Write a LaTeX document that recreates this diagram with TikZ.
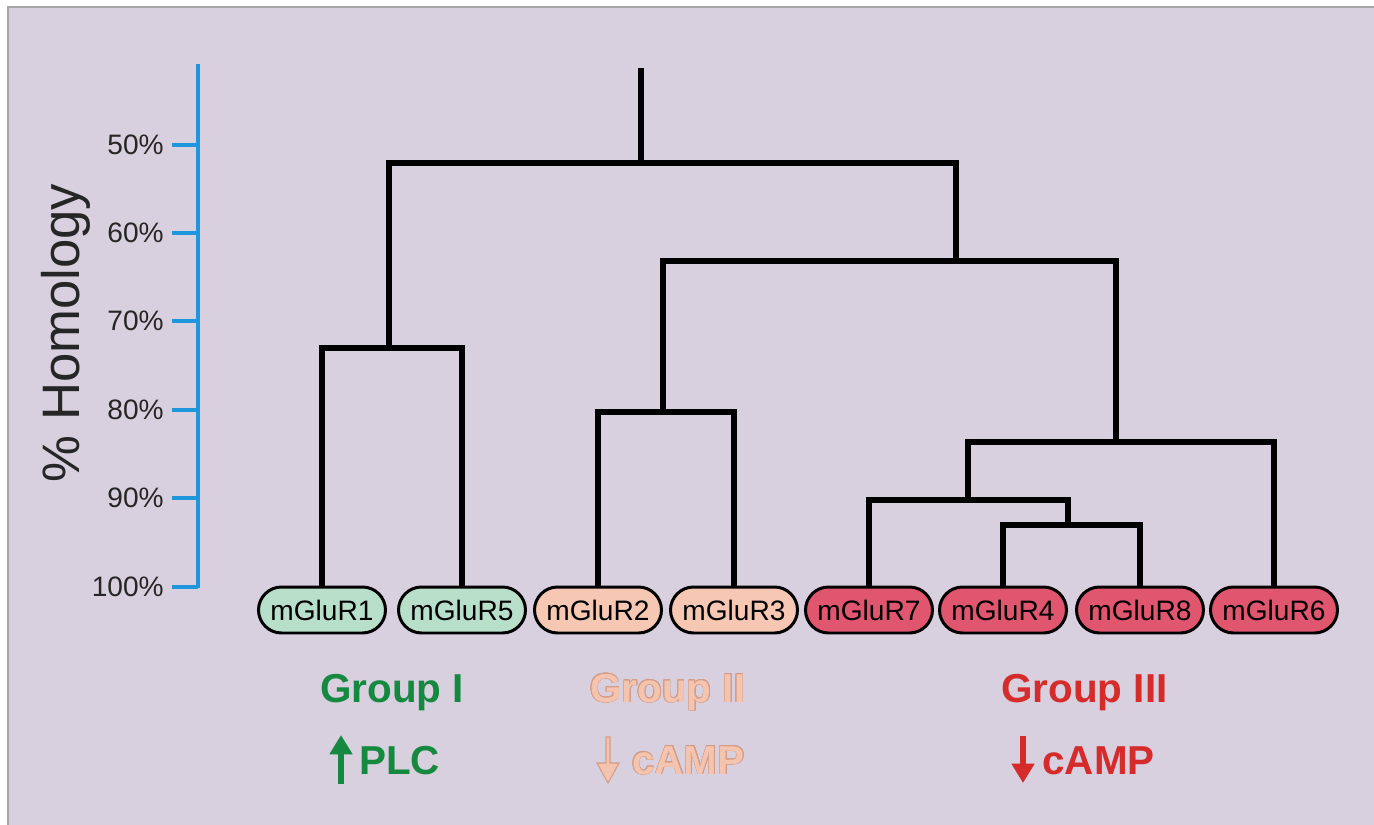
\documentclass[tikz,border=0pt]{standalone}
\usepackage{fontspec}
\setmainfont{Liberation Sans}
\usepackage{contour}
\contourlength{0.35pt}
\usetikzlibrary{arrows.meta}
\definecolor{bgpurple}{HTML}{D8D0DE}
\definecolor{framegrey}{HTML}{A6A6A6}
\definecolor{axisblue}{HTML}{1E96DC}
\definecolor{leafgreen}{HTML}{B7DFC9}
\definecolor{leafsalmon}{HTML}{F6C7B3}
\definecolor{leafred}{HTML}{E0566F}
\definecolor{plcgreen}{HTML}{14893F}
\definecolor{campsalmon}{HTML}{F4C4AF}
\definecolor{campline}{HTML}{D49C87}
\definecolor{campred}{HTML}{D52B2B}

\begin{document}
\begin{tikzpicture}[x=0.02cm, y=-0.02cm,
  leaf/.style={draw, line width=1.7pt, rounded corners=0.46cm, minimum width=2.54cm, minimum height=0.92cm, inner sep=0pt, font=\fontsize{16}{18}\selectfont},
  branch/.style={line width=3pt},
  axis/.style={axisblue, line width=2.4pt},
  ticklabel/.style={anchor=east, inner sep=0pt, font=\fontsize{16}{18}\selectfont, text=black!85},
  grp/.style={anchor=base west, inner sep=0pt, font=\fontsize{23}{26}\selectfont\bfseries}]
  % background and frame
  \useasboundingbox (0,0) rectangle (1374,825);
  \fill[white] (0,0) rectangle (1374,825);
  \fill[bgpurple] (8,7) rectangle (1374,825);
  \draw[framegrey, line width=0.6pt] (8,825) -- (8,7) -- (1374,7);

  % homology axis
  \coordinate (axtop) at (198,64);
  \coordinate (axbot) at (198,588);
  \draw[axis] (axtop) -- (axbot);
  \foreach \p/\y in {50/145,60/233,70/321,80/410,90/498,100/587} {
    \draw[axis] (172,\y) -- (198,\y);
    \node[ticklabel] (t\p) at (164,\y) {\p\%};
  }
  \node[rotate=90, font=\fontsize{30}{34}\selectfont, text=black!85] (ylab) at (66,333) {\% Homology};

  % receptors
  \foreach \n/\x/\c in {1/322/leafgreen, 5/462/leafgreen, 2/598/leafsalmon, 3/734/leafsalmon,
                        7/869/leafred, 4/1003/leafred, 8/1140/leafred, 6/1274/leafred}
    \node[leaf, fill=\c] (m\n) at (\x,610) {mGluR\n};

  % junctions of the tree
  \coordinate (j15) at (389,348);
  \coordinate (j23) at (663,412);
  \coordinate (j48) at (1068,525);
  \coordinate (j748) at (968,500);
  \coordinate (j7486) at (1116,442);
  \coordinate (jII) at (956,261);
  \coordinate (jall) at (641,163);
  \coordinate (root) at (641,68);

  \draw[branch] (m1) |- (j15) -| (m5);
  \draw[branch] (m2) |- (j23) -| (m3);
  \draw[branch] (m4) |- (j48) -| (m8);
  \draw[branch] (m7) |- (j748) -| (j48);
  \draw[branch] (j748) |- (j7486) -| (m6);
  \draw[branch] (j23) |- (jII) -| (j7486);
  \draw[branch] (j15) |- (jall) -| (jII);
  \draw[branch] (jall) -- (root);

  % group labels
  \node[grp, text=plcgreen] (g1) at (320,702) {Group I};
  \node[grp, text=campsalmon] (g2) at (590,702) {\contour{campline}{Group II}};
  \node[grp, text=campred] (g3) at (1001,702) {Group III};

  \node[grp, text=plcgreen] (plc) at (359,774) {PLC};
  \node[grp, text=campsalmon] (camp2) at (632,774) {\contour{campline}{cAMP}};
  \node[grp, text=campred] (camp3) at (1042,774) {cAMP};

  \draw[plcgreen, line width=3.4pt, -{Triangle[width=12.5pt,length=11pt]}] (341,784) -- (341,735);
  \draw[campred, line width=3.4pt, -{Triangle[width=12.5pt,length=11pt]}] (1023,736) -- (1023,783);
  \draw[campline, fill=campsalmon, line width=0.6pt] (606,737) -- (610,737) -- (610,763) -- (619,763)
    -- (608,783) -- (597,763) -- (606,763) -- cycle;
\end{tikzpicture}
\end{document}
